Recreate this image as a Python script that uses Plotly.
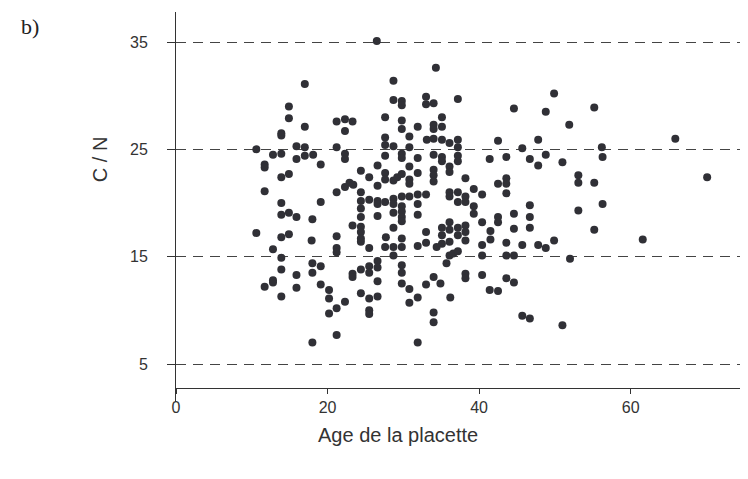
import plotly.graph_objects as go

# Age de la placette (années)
age = [
    17.0, 14.9, 14.9, 17.0, 13.9, 13.9, 10.6, 15.9, 17.0,
    26.5, 34.3, 28.7, 28.7, 29.8, 29.8, 33.0, 33.0, 34.0, 21.2, 22.3, 23.3, 22.3,
    27.6, 29.8, 29.8, 31.9, 34.0, 27.6, 27.6, 28.7, 30.8, 30.8, 33.1, 34.0, 21.2,
    37.2, 35.1, 34.0, 35.1, 35.1, 36.1, 37.2, 37.2, 42.5, 44.6, 45.7, 47.8, 48.8,
    49.9, 51.9,
    55.2, 65.9, 56.2,
    12.8, 13.9, 15.9, 17.0, 11.7, 11.7, 13.9, 14.9, 11.7, 13.9, 13.9, 14.9, 15.9,
    18.0, 10.6, 13.9, 14.9, 17.9, 12.8, 13.9,
    18.1, 19.1, 22.3, 22.3, 27.6, 29.8, 29.8, 31.9, 34.0, 24.4, 25.5, 26.6, 26.6,
    27.6, 27.6, 28.7, 29.2, 29.8, 30.8, 30.8, 30.8, 31.9, 34.0, 34.0, 34.0,
    21.2, 22.3, 22.9, 23.4, 24.4, 19.1, 24.4, 24.4, 25.5, 26.6, 26.6, 27.6, 28.7,
    28.7, 29.8, 29.8, 29.8, 30.8, 31.9, 31.9, 31.9, 33.0,
    24.4, 26.6, 28.7, 29.8, 24.4, 23.3, 28.7, 29.8, 33.0, 24.4, 21.2, 24.4, 24.4,
    27.7, 29.8, 21.2, 21.2, 25.5, 27.6, 28.7, 28.7, 29.8, 31.9, 33.0, 34.4,
    35.1, 35.1, 37.2, 37.2, 41.4, 43.6, 46.7, 47.8, 48.8, 51.0,
    36.1, 36.1, 38.2, 42.5, 43.6, 43.6, 43.6, 36.1, 36.1, 37.2, 37.2, 39.3, 40.4,
    38.2, 38.2, 39.3, 39.3, 46.7, 44.6, 46.7, 42.5, 42.5, 40.4, 36.1, 36.1, 35.1,
    35.1, 37.2, 37.2, 38.2, 38.2, 38.2, 41.5, 41.5, 44.6, 46.7, 35.1, 36.1, 40.4,
    43.6, 45.7, 47.8, 48.8, 49.9, 36.1, 36.6, 37.2, 40.4, 43.6, 44.6,
    56.3, 53.1, 53.1, 55.2, 70.1, 56.3, 53.1, 55.2, 61.6, 52.0,
    13.9, 15.9, 12.8, 12.8, 11.7, 15.9, 13.9, 18.0, 18.0, 18.0,
    19.1, 19.1, 20.2, 20.2, 22.3, 21.2, 20.2, 23.3, 23.3, 24.4, 25.5, 25.5, 26.6,
    26.6, 26.6, 24.4, 25.5, 26.6, 25.5, 25.5, 21.2, 29.8, 29.8, 29.8, 30.8, 30.8,
    31.9, 33.0, 34.0, 34.9, 34.0, 34.0, 31.9,
    35.7, 38.2, 38.2, 40.4, 43.6, 44.6, 41.4, 42.5, 36.2, 45.7, 46.7, 51.0,
]

# Rapport C / N
cn = [
    31.1, 29.0, 27.9, 27.1, 26.5, 26.3, 25.0, 25.3, 25.2,
    35.1, 32.6, 31.4, 29.6, 29.5, 29.1, 29.9, 29.2, 29.3, 27.6, 27.8, 27.6, 26.7,
    28.0, 27.7, 26.9, 27.1, 27.3, 26.1, 25.4, 25.3, 26.2, 25.2, 25.9, 26.0, 25.2,
    29.7, 28.0, 26.9, 27.1, 25.9, 25.6, 25.9, 25.2, 25.8, 28.8, 25.1, 25.9, 28.5,
    30.2, 27.3,
    28.9, 26.0, 25.2,
    24.5, 24.6, 24.1, 24.4, 23.6, 23.3, 22.4, 22.7, 21.1, 20.0, 18.9, 19.1, 18.7,
    18.5, 17.2, 16.8, 17.1, 16.5, 15.7, 14.9,
    24.5, 23.6, 24.6, 24.1, 24.4, 24.6, 24.2, 24.2, 24.5, 23.0, 22.4, 23.5, 21.6,
    22.8, 22.2, 22.1, 22.4, 22.7, 23.4, 22.2, 21.8, 22.8, 23.1, 22.6, 22.0,
    21.0, 21.5, 21.9, 21.7, 21.0, 20.1, 20.2, 19.5, 20.3, 20.2, 19.9, 20.1, 20.4,
    19.9, 20.6, 19.7, 19.2, 20.6, 20.8, 19.9, 18.9, 20.8,
    18.7, 18.8, 19.1, 18.7, 17.8, 17.9, 17.7, 18.3, 17.3, 17.3, 16.9, 16.7, 16.4,
    16.8, 16.7, 15.8, 15.4, 15.8, 15.9, 15.9, 15.1, 15.9, 16.0, 16.3, 15.9,
    24.3, 23.9, 24.4, 23.9, 24.1, 24.3, 24.1, 23.5, 24.5, 23.8,
    23.4, 22.9, 22.3, 21.8, 22.3, 21.8, 20.9, 21.0, 20.6, 21.0, 20.1, 21.3, 20.8,
    20.6, 20.1, 19.7, 19.0, 19.8, 19.0, 18.7, 18.7, 18.2, 18.2, 18.2, 17.5, 17.7,
    17.0, 17.7, 17.0, 17.9, 17.3, 16.5, 17.4, 16.6, 17.6, 17.7, 16.2, 16.4, 16.1,
    16.3, 16.1, 16.1, 15.8, 16.5, 15.1, 15.3, 15.5, 15.1, 15.1, 15.1,
    24.3, 22.6, 21.9, 21.9, 22.4, 19.9, 19.3, 17.5, 16.6, 14.8,
    13.8, 13.3, 12.8, 12.6, 12.2, 12.1, 11.3, 14.4, 13.5, 7.0,
    14.1, 12.4, 11.9, 11.1, 10.8, 10.2, 9.7, 13.4, 13.1, 13.8, 14.1, 13.5, 14.6,
    14.0, 12.7, 11.6, 11.1, 11.3, 10.0, 9.65, 7.7, 14.2, 13.5, 12.5, 12.0, 10.7,
    11.2, 12.4, 13.1, 12.5, 9.8, 8.9, 7.0,
    14.4, 13.4, 13.0, 13.3, 13.0, 12.6, 11.9, 11.8, 11.2, 9.5, 9.25, 8.6,
]

y_ticks = [5, 15, 25, 35]
x_ticks = [0, 20, 40, 60]

fig = go.Figure(go.Scatter(
    x=age,
    y=cn,
    mode='markers',
    marker=dict(color='#303036', size=8),
    hoverinfo='x+y',
))

# page body has an 8px margin, so the figure sits at (8, 8) in the window
fig.add_annotation(
    text='b)', xref='paper', yref='paper', x=-0.258, y=0.963,
    xanchor='center', yanchor='middle', showarrow=False,
    font=dict(family='Liberation Serif', size=22, color='#222'),
)
fig.add_annotation(
    text='C / N', xref='paper', yref='paper', x=-0.134, y=0.623,
    xanchor='center', yanchor='middle', textangle=-90, showarrow=False,
    font=dict(size=20, color='#333'),
)
fig.add_annotation(
    text='Age de la placette', xref='paper', yref='paper', x=0.392, y=-0.085,
    xanchor='center', yanchor='middle', showarrow=False,
    font=dict(size=20, color='#333'),
)

fig.update_layout(
    width=748,
    height=479,
    showlegend=False,
    plot_bgcolor='white',
    paper_bgcolor='white',
    margin=dict(l=168, r=14, t=4, b=85),
    font=dict(family='Liberation Sans', size=16, color='#333'),
    xaxis=dict(
        range=[0, 74.7],
        tickvals=x_ticks,
        ticks='outside',
        ticklen=5,
        tickcolor='#333',
        showline=True,
        linecolor='#333',
        linewidth=1,
        showgrid=False,
        zeroline=False,
        anchor='free',
        position=0.036,
    ),
    yaxis=dict(
        range=[1.46, 37.8],
        tickvals=y_ticks,
        ticks='outside',
        ticklen=8,
        tickcolor='#333',
        ticklabelstandoff=16,
        showline=True,
        linecolor='#333',
        linewidth=1,
        showgrid=True,
        gridcolor='#444',
        gridwidth=1,
        griddash='10px,7px',
        zeroline=False,
    ),
)

fig.write_html('out.html')
